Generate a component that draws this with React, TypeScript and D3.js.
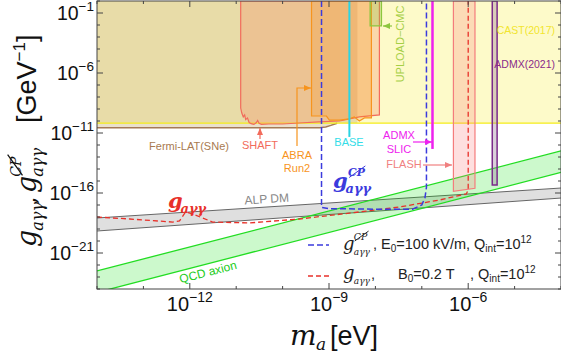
import React from "react";
import * as d3 from "d3";

const W = 561;
const H = 354;
const frame = { left: 97, right: 561, top: 1, bottom: 289 };

// axes
const massDomain = [1e-14, 1e-4];
const couplingDomain = [1e-24, 1];
const xMajor = [1e-12, 1e-9, 1e-6];
const xMajorExp = ["−12", "−9", "−6"];
const yMajor = [1e-1, 1e-6, 1e-11, 1e-16, 1e-21];
const yMajorExp = ["−1", "−6", "−11", "−16", "−21"];

// existing limits  [m_a (eV), g (GeV^-1)]
const castLimit = 6.6e-11;
const fermiEdge: [number, number][] = [
  [1e-14, 2.8e-11], [6.3e-10, 2.8e-11], [8.5e-10, 3.2e-11], [1.1e-9, 4.3e-11], [1.5e-9, 6.4e-11],
];
const fermiRight = 4.1e-9;
const shaft: [number, number][] = [
  [1.25e-11, 1], [1.25e-11, 1.2e-9], [1.32e-11, 4.6e-10], [1.42e-11, 2.2e-10], [1.52e-11, 3.2e-10],
  [1.6e-11, 1.3e-10], [1.75e-11, 1.8e-10], [1.9e-11, 7.5e-11], [2.1e-11, 6e-11], [2.4e-11, 5.2e-11],
  [2.7e-11, 7e-11], [2.9e-11, 1.1e-10], [3.1e-11, 6.5e-11], [3.5e-11, 5.2e-11], [5e-11, 5.6e-11],
  [1e-10, 5.6e-11], [2.3e-10, 6.8e-11], [6e-10, 8.3e-11], [1.7e-9, 1e-10], [4.5e-9, 2.2e-10],
  [1.22e-8, 3.2e-10], [1.22e-8, 1],
];
const abra: [number, number][] = [
  [4.2e-10, 1], [4.2e-10, 2.6e-10], [8.8e-10, 2.6e-10], [1.02e-9, 1.2e-10], [1.68e-9, 1.2e-10],
  [2.75e-9, 1.5e-10], [3.5e-9, 2.2e-10], [4.5e-9, 1e-10], [5.8e-9, 1.8e-10], [8.2e-9, 1.8e-10], [8.2e-9, 1],
];
const upload: [number, number][] = [[7.7e-9, 1], [7.7e-9, 8.3e-3], [1.35e-8, 8.3e-3], [1.35e-8, 1]];
const base: [number, number][] = [[2.75e-9, 1], [2.75e-9, 4.7e-12]];
const admxSlic: [number, number][] = [[1.7e-7, 1], [1.7e-7, 4.7e-13]];
const flash: [number, number][] = [[4.8e-7, 1], [4.8e-7, 1.4e-16], [1.4e-6, 2.5e-16], [1.4e-6, 1]];
const admx2021: [number, number][] = [[3.3e-6, 1], [3.3e-6, 4.7e-16], [4.2e-6, 4.7e-16], [4.2e-6, 1]];

// bands
const bandMass = [1e-14, 1e-4];
const alpUpper = [8.3e-19, 2.6e-16];
const alpLower = [6.8e-20, 3.8e-17];
const qcdUpper = [3.2e-23, 3.2e-13];
const qcdLower = [5.2e-25, 5.2e-15];

// projected sensitivities
const cpReach: [number, number][] = [
  [6.9e-10, 1], [6.9e-10, 6.3e-18], [1e-9, 5e-18], [1e-8, 4.5e-18], [6.3e-8, 4.5e-18],
  [1e-7, 1e-17], [1.17e-7, 4e-17], [1.26e-7, 3e-16], [1.26e-7, 1],
];
const gReach: [number, number][] = [
  [1e-14, 1e-18], [5.1e-14, 6.8e-19], [4.3e-13, 3.8e-19], [6e-13, 4.7e-19], [8.1e-13, 2.6e-18],
  [1.15e-12, 1.8e-18], [3.1e-12, 3.8e-19], [1.95e-11, 3.2e-19], [2.3e-10, 6.8e-19], [2.75e-9, 2.1e-18],
  [3.3e-8, 6.8e-18], [2.4e-7, 2.6e-17], [9.1e-7, 8.3e-17], [1e-6, 1.8e-16], [1e-6, 1],
];

const x = d3.scaleLog().domain(massDomain).range([frame.left, frame.right]);
const y = d3.scaleLog().domain(couplingDomain).range([frame.bottom, frame.top]);
const line = d3.line<[number, number]>().x((d) => x(d[0])).y((d) => y(d[1]));
const poly = (pts: [number, number][]) => line(pts) + "Z";
const band = (lo: number[], hi: number[]) =>
  d3
    .area<number>()
    .x((m) => x(m))
    .y0((_, i) => y(lo[i]))
    .y1((_, i) => y(hi[i]))(bandMass);

const sans = "'Liberation Sans', Arial, sans-serif";
const mathF = "'DejaVu Serif', serif";

// italic g with optional super/subscripts (CP with a slash through it)
const MathG = ({ x0, y0, size, color, sup, sub, slash, subScale = 0.62, weight = "normal", supShift = 0.6 }: any) => {
  const sx = x0 + size * 0.6;
  const px = x0 + size * supShift;
  return (
    <g fill={color} fontFamily={mathF} fontStyle="italic" fontWeight={weight}>
      <text x={x0} y={y0} fontSize={size}>g</text>
      {sup && (
        <text x={px} y={y0 - size * 0.55} fontSize={size * 0.52}>{sup}</text>
      )}
      {slash && (
        <line x1={px + size * 0.05} y1={y0 - size * 0.5} x2={px + size * 0.82} y2={y0 - size * 1.05} stroke={color} strokeWidth={Math.max(1, size * 0.045)} />
      )}
      <text x={sx} y={y0 + size * 0.26} fontSize={size * subScale}>{sub}</text>
    </g>
  );
};

const Arrow = ({ pts, color }: any) => {
  const n = pts.length;
  const [x1, y1] = pts[n - 2];
  const [x2, y2] = pts[n - 1];
  const a = Math.atan2(y2 - y1, x2 - x1);
  const L = 7, w = 3;
  const head = [
    [x2, y2],
    [x2 - L * Math.cos(a) + w * Math.sin(a), y2 - L * Math.sin(a) - w * Math.cos(a)],
    [x2 - L * Math.cos(a) - w * Math.sin(a), y2 - L * Math.sin(a) + w * Math.cos(a)],
  ];
  return (
    <g>
      <polyline points={pts.map((p: number[]) => p.join(",")).join(" ")} fill="none" stroke={color} strokeWidth={1.2} />
      <polygon points={head.map((p) => p.join(",")).join(" ")} fill={color} />
    </g>
  );
};

export default function App() {
  const xMinor = d3.range(-14, -3).map((e) => Math.pow(10, e));
  const yMinor = d3.range(-24, 1).map((e) => Math.pow(10, e));
  const fermiPoly: [number, number][] = [[1e-14, 1], ...fermiEdge, [fermiRight, castLimit], [fermiRight, 1]];
  const isMajor = (list: number[], v: number) => list.some((t) => Math.abs(Math.log10(t) - Math.log10(v)) < 1e-6);

  return (
    <svg width={W} height={H} style={{ position: "absolute", left: 0, top: 0, background: "#fff" }}>
      <defs>
        <clipPath id="plot">
          <rect x={frame.left} y={frame.top} width={frame.right - frame.left} height={frame.bottom - frame.top} />
        </clipPath>
      </defs>
      <g clipPath="url(#plot)">
        {/* CAST */}
        <rect x={frame.left} y={y(1)} width={frame.right - frame.left} height={y(castLimit) - y(1)} fill="rgb(250,240,100)" fillOpacity={0.35} />
        {/* Fermi-LAT */}
        <path d={poly(fermiPoly)} fill="rgb(190,160,100)" fillOpacity={0.33} />
        <path d={line(fermiEdge)!} fill="none" stroke="#a57a55" strokeWidth={1.5} />
        <line x1={frame.left} x2={frame.right} y1={y(castLimit)} y2={y(castLimit)} stroke="#f5ec1a" strokeWidth={1.3} />
        {/* SHAFT */}
        <path d={poly(shaft)} fill="rgb(244,140,100)" fillOpacity={0.3} stroke="#f26b5b" strokeWidth={1.2} />
        {/* ABRA */}
        <path d={poly(abra)} fill="rgb(247,148,29)" fillOpacity={0.25} stroke="#f7941d" strokeWidth={1.2} />
        {/* UPLOAD-CMC */}
        <path d={poly(upload)} fill="rgb(141,198,63)" fillOpacity={0.3} stroke="#8dc63f" strokeWidth={1.3} />
        {/* BASE */}
        <path d={line(base)!} stroke="#2ad4e4" strokeWidth={2} />
        {/* ADMX SLIC */}
        <path d={line(admxSlic)!} stroke="#ee22ee" strokeWidth={2.5} />
        {/* ALP DM */}
        <path d={band(alpLower, alpUpper)!} fill="rgb(128,128,128)" fillOpacity={0.25} />
        <path d={line(bandMass.map((m, i) => [m, alpUpper[i]] as [number, number]))!} stroke="#666" strokeWidth={1} />
        <path d={line(bandMass.map((m, i) => [m, alpLower[i]] as [number, number]))!} stroke="#666" strokeWidth={1} />
        {/* QCD axion */}
        <path d={band(qcdLower, qcdUpper)!} fill="rgb(0,224,0)" fillOpacity={0.2} />
        <path d={line(bandMass.map((m, i) => [m, qcdUpper[i]] as [number, number]))!} stroke="#22dd22" strokeWidth={1.3} />
        <path d={line(bandMass.map((m, i) => [m, qcdLower[i]] as [number, number]))!} stroke="#22dd22" strokeWidth={1.3} />
        {/* FLASH */}
        <path d={poly(flash)} fill="rgb(250,128,128)" fillOpacity={0.25} stroke="#f47c7c" strokeWidth={1.2} />
        {/* ADMX 2021 */}
        <path d={poly(admx2021)} fill="rgb(150,120,150)" fillOpacity={0.35} stroke="#7b2a8a" strokeWidth={1.5} />
        {/* projections */}
        <path d={line(gReach)!} fill="none" stroke="#e8312a" strokeWidth={1.3} strokeDasharray="5,3" />
        <path d={line(cpReach)!} fill="none" stroke="#3b3bdd" strokeWidth={1.5} strokeDasharray="6,3" />
      </g>

      {/* region labels */}
      <g fontFamily={sans} fontSize={11}>
        <text x={189} y={150} textAnchor="middle" fill="#a87a50">Fermi-LAT(SNe)</text>
        <text x={260} y={149} textAnchor="middle" fill="#f26b5b">SHAFT</text>
        <text x={297} y={159} textAnchor="middle" fill="#f7941d">ABRA</text>
        <text x={297} y={172} textAnchor="middle" fill="#f7941d">Run2</text>
        <text x={349} y={146} textAnchor="middle" fill="#33dde8">BASE</text>
        <text x={399} y={139} textAnchor="middle" fill="#ee22ee">ADMX</text>
        <text x={399} y={153} textAnchor="middle" fill="#ee22ee">SLIC</text>
        <text x={404} y={168} textAnchor="middle" fill="#f08080">FLASH</text>
        <text x={555} y={34} fill="#f2e52e" fontSize={10.5} textAnchor="end">CAST(2017)</text>
        <text x={555} y={68} fill="#8a2a8a" fontSize={10.5} textAnchor="end">ADMX(2021)</text>
        <text transform="translate(404,44) rotate(-90)" textAnchor="middle" fill="#a6cf46">UPLOAD−CMC</text>
        <text transform="translate(267,203) rotate(-3.6)" textAnchor="middle" fill="#888" fontSize={12}>ALP DM</text>
        <text transform="translate(209,276) rotate(-14.5)" textAnchor="middle" fill="#22cc22" fontSize={12}>QCD axion</text>
      </g>
      <Arrow pts={[[260, 139], [260, 128]]} color="#f26b5b" />
      <Arrow pts={[[297, 146], [297, 88], [311, 88]]} color="#f7941d" />
      <Arrow pts={[[413, 142], [432, 142]]} color="#ee22ee" />
      <Arrow pts={[[423, 165], [452, 165]]} color="#f08080" />
      <Arrow pts={[[392, 26], [383, 26]]} color="#8dc63f" />

      <MathG x0={168} y0={208} size={21} color="#e8312a" sub="aγγ" weight="bold" />
      <MathG x0={333} y0={188} size={21} color="#3b3bdd" sup="CP" sub="aγγ" slash weight="bold" supShift={0.72} />

      {/* legend */}
      <line x1={308} x2={329} y1={245} y2={245} stroke="#3b3bdd" strokeWidth={1.5} strokeDasharray="6,3" />
      <MathG x0={343} y0={250} size={18} color="#222" sup="CP" sub="aγγ" slash subScale={0.5} />
      <text x={373} y={249} fontFamily={sans} fontSize={14.5} fill="#222">
        , E<tspan fontSize={10} dy={3}>0</tspan>
        <tspan dy={-3}>=100 kV/m, Q</tspan>
        <tspan fontSize={10} dy={3}>int</tspan>
        <tspan dy={-3}>=10</tspan>
        <tspan fontSize={10} dy={-6}>12</tspan>
      </text>
      <line x1={308} x2={329} y1={276} y2={276} stroke="#e8312a" strokeWidth={1.3} strokeDasharray="5,3" />
      <MathG x0={343} y0={279} size={18} color="#222" sub="aγγ" subScale={0.5} />
      <text x={371} y={279} fontFamily={sans} fontSize={14.5} fill="#222">,</text>
      <text x={398} y={279} fontFamily={sans} fontSize={14.5} fill="#222">
        B<tspan fontSize={10} dy={3}>0</tspan>
        <tspan dy={-3}>=0.2 T</tspan>
      </text>
      <text x={470} y={279} fontFamily={sans} fontSize={14.5} fill="#222">
        , Q<tspan fontSize={10} dy={3}>int</tspan>
        <tspan dy={-3}>=10</tspan>
        <tspan fontSize={10} dy={-6}>12</tspan>
      </text>

      {/* frame and ticks */}
      <rect x={frame.left} y={frame.top} width={frame.right - frame.left} height={frame.bottom - frame.top} fill="none" stroke="#444" strokeWidth={1} />
      <g stroke="#444" strokeWidth={1}>
        {xMinor.map((m) => {
          const len = isMajor(xMajor, m) ? 6 : 3;
          return (
            <g key={"x" + m}>
              <line x1={x(m)} x2={x(m)} y1={frame.bottom} y2={frame.bottom - len} />
              <line x1={x(m)} x2={x(m)} y1={frame.top} y2={frame.top + len} />
            </g>
          );
        })}
        {yMinor.map((g) => {
          const len = isMajor(yMajor, g) ? 6 : 3;
          return (
            <g key={"y" + g}>
              <line x1={frame.left} x2={frame.left + len} y1={y(g)} y2={y(g)} />
              <line x1={frame.right} x2={frame.right - len} y1={y(g)} y2={y(g)} />
            </g>
          );
        })}
      </g>
      <g fontFamily={sans} fill="#111">
        {xMajor.map((m, i) => (
          <text key={m} x={x(m)} y={311} textAnchor="middle" fontSize={20}>
            10<tspan fontSize={14} dy={-9}>{xMajorExp[i]}</tspan>
          </text>
        ))}
        {yMajor.map((g, i) => (
          <text key={g} x={94} y={y(g) + 7} textAnchor="end" fontSize={19.5}>
            10<tspan fontSize={13.5} dy={-9}>{yMajorExp[i]}</tspan>
          </text>
        ))}
      </g>

      {/* axis titles */}
      <g fill="#111">
        <text x={290} y={345} fontFamily={mathF} fontStyle="italic" fontSize={28}>m</text>
        <text x={316} y={350} fontFamily={mathF} fontStyle="italic" fontSize={17}>a</text>
        <text x={330} y={345} fontFamily={sans} fontSize={27}>[eV]</text>
      </g>
      <g transform="translate(36,247) rotate(-90)" fill="#111">
        <MathG x0={0} y0={0} size={27} color="#111" sub="aγγ" subScale={0.6} />
        <text x={43} y={0} fontFamily={mathF} fontSize={24}>,</text>
        <MathG x0={54} y0={0} size={27} color="#111" sup="CP" sub="aγγ" slash subScale={0.6} />
        <text x={124} y={0} fontFamily={sans} fontSize={27}>
          [GeV<tspan fontSize={17} dy={-11}>−1</tspan>
          <tspan dy={11}>]</tspan>
        </text>
      </g>
    </svg>
  );
}
